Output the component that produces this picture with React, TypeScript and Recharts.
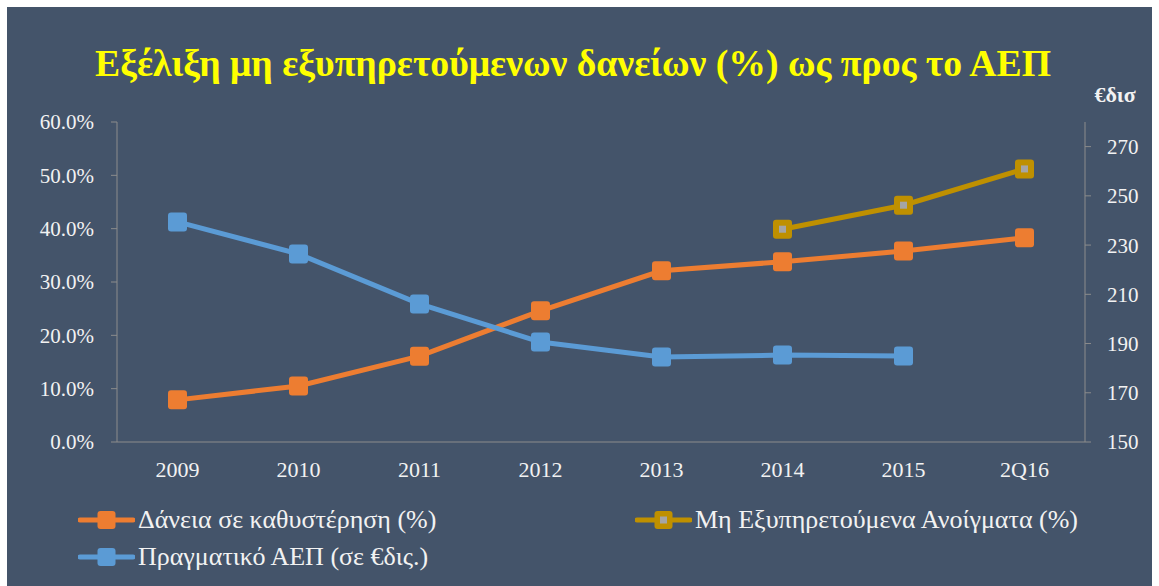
import React from "react";
import {
  ComposedChart,
  Line,
  XAxis,
  YAxis,
} from "recharts";

const categories = ["2009", "2010", "2011", "2012", "2013", "2014", "2015", "2Q16"];
const arrears = [7.9, 10.5, 16.1, 24.6, 32.1, 33.8, 35.8, 38.3];
const npe = [null, null, null, null, null, 39.9, 44.4, 51.2];
const gdp = [239.4, 226.4, 206.1, 190.6, 184.5, 185.3, 184.9, null];
const leftTicks = [0, 10, 20, 30, 40, 50, 60];
const rightTicks = [150, 170, 190, 210, 230, 250, 270];
const boundaryTicks = [0, 1, 2, 3, 4, 5, 6, 7, 8];

const BG = "#44546A";
const ORANGE = "#ED7D31";
const BLUE = "#5B9BD5";
const GOLD = "#BF9000";
const INNER = "#A5A5A5";
const AXIS = "#8C8C8C";
const TEXT = "#F2F2F2";
const FONT = "Liberation Serif, DejaVu Serif, Times New Roman, serif";

const chartData = categories.map((c, i) => ({
  name: c,
  idx: i + 0.5,
  arrears: arrears[i],
  npe: npe[i],
  gdp: gdp[i],
}));

const SIZE = 19;

function squareDot(color: string, inner?: string) {
  return (props: any) => {
    const { cx, cy, value, index } = props;
    if (value == null || cx == null || cy == null) return <g key={index} />;
    return (
      <g key={index}>
        <rect
          x={cx - SIZE / 2}
          y={cy - SIZE / 2}
          width={SIZE}
          height={SIZE}
          rx={3}
          fill={color}
        />
        {inner && <rect x={cx - 3.5} y={cy - 3.5} width={7} height={7} fill={inner} />}
      </g>
    );
  };
}

function LegendItem({ color, inner, label }: { color: string; inner?: string; label: string }) {
  const w = 57;
  return (
    <div style={{ display: "flex", alignItems: "center", height: 30 }}>
      <svg width={w} height={22} style={{ marginRight: 3 }}>
        <line x1={2} y1={11} x2={w - 2} y2={11} stroke={color} strokeWidth={5} strokeLinecap="round" />
        <rect x={w / 2 - 9} y={2} width={18} height={18} rx={3} fill={color} />
        {inner && <rect x={w / 2 - 3.5} y={7.5} width={7} height={7} fill={inner} />}
      </svg>
      <span style={{ color: TEXT, fontFamily: FONT, fontSize: 26, whiteSpace: "nowrap" }}>{label}</span>
    </div>
  );
}

export default function App() {
  const xTickStyle = { fill: TEXT, fontSize: 22, fontFamily: FONT };
  const yTickStyle = { fill: TEXT, fontSize: 21, fontFamily: FONT };
  return (
    <div
      style={{
        position: "absolute",
        left: 7,
        top: 7,
        width: 1145,
        height: 579,
        background: BG,
      }}
    >
      <svg
        width={1145}
        height={110}
        style={{ position: "absolute", left: 0, top: 0 }}
      >
        <text
          x={566}
          y={69}
          textAnchor="middle"
          textLength={956}
          lengthAdjust="spacingAndGlyphs"
          fill="#FFFF00"
          fontFamily={FONT}
          fontWeight="bold"
          fontSize={37}
        >
          Εξέλιξη μη εξυπηρετούμενων δανείων (%)  ως προς το ΑΕΠ
        </text>
        <text
          x={1108}
          y={95}
          textAnchor="middle"
          fill={TEXT}
          fontFamily={FONT}
          fontWeight="bold"
          fontSize={22}
        >
          €δισ
        </text>
      </svg>
      <ComposedChart
        width={1145}
        height={579}
        data={chartData}
        margin={{ top: 115, right: 0, left: 0, bottom: 104 }}
        style={{ position: "absolute", left: 0, top: 0 }}
      >
        <XAxis
          xAxisId="bounds"
          dataKey="idx"
          type="number"
          domain={[0, 8]}
          ticks={boundaryTicks}
          allowDataOverflow
          height={0}
          axisLine={false}
          tick={false}
          tickLine={{ stroke: AXIS }}
          tickSize={6}
        />
        <XAxis
          dataKey="name"
          scale="band"
          height={40}
          axisLine={{ stroke: AXIS }}
          tickLine={false}
          tickSize={0}
          tickMargin={19}
          tick={xTickStyle}
          interval={0}
        />
        <YAxis
          yAxisId="left"
          domain={[0, 60]}
          ticks={leftTicks}
          width={110}
          axisLine={{ stroke: AXIS }}
          tickLine={{ stroke: AXIS }}
          tickSize={6}
          tickMargin={17}
          tick={yTickStyle}
          tickFormatter={(v: number) => `${v.toFixed(1)}%`}
        />
        <YAxis
          yAxisId="right"
          orientation="right"
          domain={[150, 280]}
          ticks={rightTicks}
          width={67}
          axisLine={{ stroke: AXIS }}
          tickLine={{ stroke: AXIS }}
          tickSize={6}
          tickMargin={16}
          tick={yTickStyle}
        />
        <Line
          yAxisId="left"
          dataKey="arrears"
          stroke={ORANGE}
          strokeWidth={5}
          dot={squareDot(ORANGE)}
          activeDot={false}
          isAnimationActive={false}
        />
        <Line
          yAxisId="left"
          dataKey="npe"
          stroke={GOLD}
          strokeWidth={5}
          dot={squareDot(GOLD, INNER)}
          activeDot={false}
          isAnimationActive={false}
        />
        <Line
          yAxisId="right"
          dataKey="gdp"
          stroke={BLUE}
          strokeWidth={5}
          dot={squareDot(BLUE)}
          activeDot={false}
          isAnimationActive={false}
        />
      </ComposedChart>
      <div style={{ position: "absolute", left: 71, top: 498 }}>
        <LegendItem color={ORANGE} label="Δάνεια σε καθυστέρηση (%)" />
      </div>
      <div style={{ position: "absolute", left: 71, top: 535 }}>
        <LegendItem color={BLUE} label="Πραγματικό ΑΕΠ (σε €δις.)" />
      </div>
      <div style={{ position: "absolute", left: 628, top: 498 }}>
        <LegendItem color={GOLD} inner={INNER} label="Μη Εξυπηρετούμενα Ανοίγματα (%)" />
      </div>
    </div>
  );
}
